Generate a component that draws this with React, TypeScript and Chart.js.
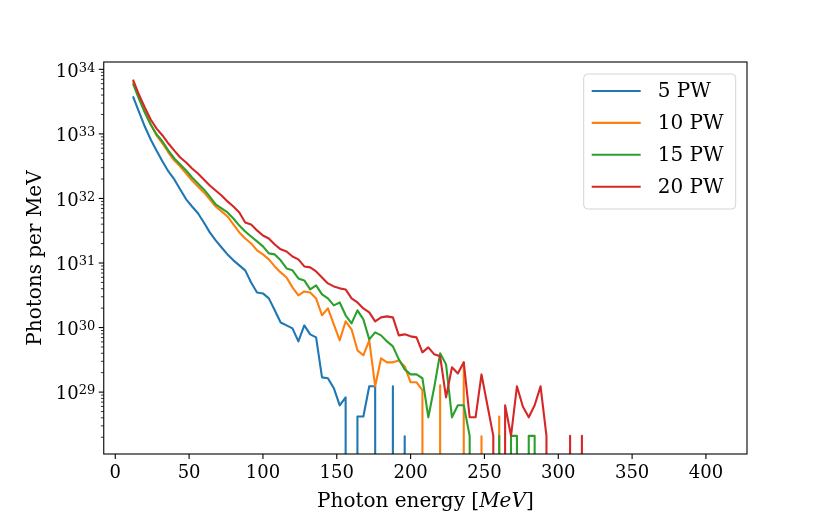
import { useEffect, useRef } from "react";
import { Chart, registerables } from "chart.js";

Chart.register(...registerables);

// Photon energy bin centres [MeV]
const energyMeV = [
  12, 16, 20, 24, 28, 32, 36, 40, 44, 48, 52, 56, 60, 64, 68, 72, 76, 80, 84, 88,
  92, 96, 100, 104, 108, 112, 116, 120, 124, 128, 132, 136, 140, 144, 148, 152, 156, 160, 164, 168,
  172, 176, 180, 184, 188, 192, 196, 200, 204, 208, 212, 216, 220, 224, 228, 232, 236, 240, 244, 248,
  252, 256, 260, 264, 268, 272, 276, 280, 284, 288, 292, 296, 300, 304, 308, 312, 316, 320, 324, 328,
  332, 336, 340, 344, 348, 352, 356, 360, 364, 368, 372, 376, 380, 384, 388, 392, 396, 400, 404, 408,
];

// Photons per MeV
const pw5 = [
  3.8e33, 2.22e33, 1.3e33, 8.2e32, 5.5e32, 3.74e32, 2.62e32, 1.97e32, 1.38e32, 9.7e31,
  7.5e31, 5.9e31, 4.25e31, 2.98e31, 2.24e31, 1.74e31, 1.36e31, 1.1e31, 9.2e30, 7.7e30,
  5.0e30, 3.5e30, 3.38e30, 2.83e30, 1.85e30, 1.2e30, 1.08e30, 9.7e29, 6.1e29, 1.08e30,
  7.85e29, 7.05e29, 1.69e29, 1.64e29, 1.15e29, 6.25e28, 8.3e28, 0, 4.2e28, 4.2e28,
  1.23e29, 1.23e29, 0, 0, 1.23e29, 0, 2.07e28, 0, 0, 0,
  0, 0, 0, 0, 0, 0, 0, 0, 0, 0,
  0, 0, 0, 0, 0, 0, 0, 0, 0, 0,
  0, 0, 0, 0, 0, 0, 0, 0, 0, 0,
  0, 0, 0, 0, 0, 0, 0, 0, 0, 0,
  0, 0, 0, 0, 0, 0, 0, 0, 0, 0,
];

const pw10 = [
  6.47e33, 3.66e33, 2.22e33, 1.4e33, 9.45e32, 7.1e32, 5.15e32, 3.87e32, 3.13e32, 2.44e32,
  1.9e32, 1.53e32, 1.24e32, 9.7e31, 7.5e31, 6.3e31, 5.26e31, 3.96e31, 2.98e31, 2.4e31,
  2.01e31, 1.57e31, 1.36e31, 1.14e31, 8.85e30, 7.15e30, 5.98e30, 4.19e30, 3.15e30, 3.63e30,
  3.5e30, 2.83e30, 1.55e30, 1.98e30, 1.12e30, 6.35e29, 1.25e30, 9.4e29, 4.44e29, 3.72e29,
  6.35e29, 1.23e29, 3.34e29, 2.89e29, 2.89e29, 3.1e29, 2.5e29, 1.42e29, 1.42e29, 1.07e29,
  0, 0, 1.27e29, 0, 0, 0, 2.92e29, 0, 0, 2.07e28,
  0, 0, 4.2e28, 0, 0, 0, 0, 0, 0, 0,
  0, 0, 0, 0, 0, 0, 0, 0, 0, 0,
  0, 0, 0, 0, 0, 0, 0, 0, 0, 0,
  0, 0, 0, 0, 0, 0, 0, 0, 0, 0,
];

const pw15 = [
  6.03e33, 3.53e33, 2.14e33, 1.4e33, 9.8e32, 7.62e32, 5.5e32, 4.16e32, 3.36e32, 2.71e32,
  2.11e32, 1.71e32, 1.38e32, 1.07e32, 8.07e31, 7.0e31, 6.07e31, 4.9e31, 3.8e31, 3.08e31,
  2.58e31, 2.16e31, 1.81e31, 1.41e31, 1.36e31, 1.1e31, 8.24e30, 7.7e30, 5.78e30, 5.38e30,
  3.9e30, 4.5e30, 3.27e30, 2.83e30, 2.21e30, 2.45e30, 1.55e30, 1.16e30, 1.85e30, 1.34e30,
  6.56e29, 8.43e29, 7.57e29, 6.1e29, 5.12e29, 3.22e29, 2.25e29, 1.88e29, 1.88e29, 1.64e29,
  4.07e28, 1.19e29, 3.99e29, 2.69e29, 4.07e28, 6.25e28, 6.25e28, 2.1e28, 0, 0,
  0, 0, 2.1e28, 0, 2.1e28, 2.1e28, 0, 2.1e28, 2.1e28, 0,
  0, 0, 0, 0, 0, 0, 0, 0, 0, 0,
  0, 0, 0, 0, 0, 0, 0, 0, 0, 0,
  0, 0, 0, 0, 0, 0, 0, 0, 0, 0,
];

const pw20 = [
  6.95e33, 4.07e33, 2.56e33, 1.67e33, 1.21e33, 9.45e32, 7.1e32, 5.5e32, 4.31e32, 3.61e32,
  2.91e32, 2.44e32, 1.97e32, 1.59e32, 1.33e32, 1.11e32, 9.0e31, 7.5e31, 6.07e31, 4.25e31,
  3.96e31, 3.2e31, 2.67e31, 2.4e31, 1.94e31, 1.63e31, 1.51e31, 1.26e31, 1.14e31, 8.85e30,
  8.55e30, 7.4e30, 5.98e30, 4.83e30, 4.34e30, 4.05e30, 3.9e30, 2.83e30, 2.45e30, 1.98e30,
  1.72e30, 1.25e30, 1.44e30, 1.49e30, 1.44e30, 7.57e29, 7.85e29, 7.31e29, 7.05e29, 4.13e29,
  4.93e29, 3.85e29, 3.58e29, 8.3e28, 2.42e29, 1.95e29, 2.89e29, 4.07e28, 4.07e28, 1.88e29,
  6.25e28, 2.1e28, 0, 6.25e28, 2.1e28, 1.23e29, 6.0e28, 4.07e28, 6.25e28, 1.23e29,
  2.1e28, 0, 0, 0, 2.1e28, 0, 2.1e28, 0, 0, 0,
  0, 0, 0, 0, 0, 0, 0, 0, 0, 0,
  0, 0, 0, 0, 0, 0, 0, 0, 0, 0,
];

const seriesLabels = ["5 PW", "10 PW", "15 PW", "20 PW"];
const seriesValues = [pw5, pw10, pw15, pw20];
const seriesColors = ["#1f77b4", "#ff7f0e", "#2ca02c", "#d62728"];

const xTickValues = [0, 50, 100, 150, 200, 250, 300, 350, 400];
const yDecadeExponents = [28, 29, 30, 31, 32, 33, 34];
const yLabelBase = "10";
const xTitleParts = ["Photon energy [", "MeV", "]"];
const yTitleText = "Photons per MeV";

const X_MIN = -7.8;
const X_MAX = 427.8;
const Y_MIN = 1.1e28;
const Y_MAX = 1.3e34;

const FONT = "'DejaVu Serif', serif";

function isDecade(v: number): number | null {
  const e = Math.round(Math.log10(v));
  const p = Math.pow(10, e);
  return Math.abs(v - p) / p < 1e-6 ? e : null;
}

// minor + major tick values of the log axis
const yTickValues: number[] = [];
for (const e of yDecadeExponents) {
  for (let m = 1; m <= 9; m++) {
    const v = m * Math.pow(10, e);
    if (v >= Y_MIN && v <= Y_MAX) yTickValues.push(v);
  }
}

const decorPlugin = {
  id: "decor",
  afterDatasetsDraw(chart: any) {
    const { ctx, chartArea: a, scales } = chart;
    const xs = scales.x;
    const ys = scales.y;
    ctx.save();
    ctx.strokeStyle = "#000";
    ctx.lineCap = "butt";

    // axes frame
    ctx.lineWidth = 1.1;
    ctx.strokeRect(a.left, a.top, a.right - a.left, a.bottom - a.top);

    // x tick marks
    for (const v of xTickValues) {
      const px = xs.getPixelForValue(v);
      ctx.beginPath();
      ctx.moveTo(px, a.bottom);
      ctx.lineTo(px, a.bottom + 5);
      ctx.stroke();
    }

    // y tick marks (major and minor) and decade labels 10^n
    for (const t of ys.ticks) {
      const py = ys.getPixelForValue(t.value);
      if (py < a.top - 0.5 || py > a.bottom + 0.5) continue;
      const exp = isDecade(t.value);
      const major = exp !== null;
      ctx.strokeStyle = "#000";
      ctx.lineWidth = major ? 1.1 : 0.8;
      ctx.beginPath();
      ctx.moveTo(a.left, py);
      ctx.lineTo(a.left - (major ? 5 : 2.8), py);
      ctx.stroke();
      if (major) {
        const right = a.left - 8.5;
        ctx.fillStyle = "#000";
        ctx.textAlign = "left";
        ctx.textBaseline = "alphabetic";
        ctx.font = `13px ${FONT}`;
        const supText = String(exp);
        const supW = ctx.measureText(supText).width;
        ctx.font = `18px ${FONT}`;
        const baseW = ctx.measureText(yLabelBase).width;
        ctx.fillText(yLabelBase, right - supW - baseW, py + 7.2);
        ctx.font = `13px ${FONT}`;
        ctx.fillText(supText, right - supW, py + 2.2);
      }
    }

    // legend
    const bw = 152;
    const bh = 135;
    const bx = a.right - 11.3 - bw;
    const by = a.top + 12;
    ctx.beginPath();
    ctx.roundRect(bx, by, bw, bh, 4);
    ctx.fillStyle = "rgba(255,255,255,0.8)";
    ctx.fill();
    ctx.lineWidth = 1;
    ctx.strokeStyle = "#d4d4d4";
    ctx.stroke();
    ctx.font = `20px ${FONT}`;
    ctx.textBaseline = "middle";
    ctx.textAlign = "left";
    chart.data.datasets.forEach((ds: any, i: number) => {
      const ry = by + 17 + i * 31.9;
      ctx.strokeStyle = ds.borderColor;
      ctx.lineWidth = 2.1;
      ctx.beginPath();
      ctx.moveTo(bx + 8, ry);
      ctx.lineTo(bx + 57, ry);
      ctx.stroke();
      ctx.fillStyle = "#000";
      ctx.fillText(ds.label, bx + 74, ry + 1);
    });

    // x axis title with italic unit
    const fonts = [`20px ${FONT}`, `italic 20px ${FONT}`, `20px ${FONT}`];
    let total = 0;
    const widths = xTitleParts.map((p, i) => {
      ctx.font = fonts[i];
      const w = ctx.measureText(p).width;
      total += w;
      return w;
    });
    let tx = (a.left + a.right) / 2 - total / 2;
    ctx.textBaseline = "alphabetic";
    ctx.fillStyle = "#000";
    xTitleParts.forEach((p, i) => {
      ctx.font = fonts[i];
      ctx.fillText(p, tx, a.bottom + 52.5);
      tx += widths[i];
    });

    ctx.restore();
  },
};

export default function App() {
  const canvasRef = useRef<HTMLCanvasElement | null>(null);

  useEffect(() => {
    document.body.style.margin = "0";
    const canvas = canvasRef.current;
    if (!canvas) return;

    const datasets = seriesValues.map((vals, i) => ({
      label: seriesLabels[i],
      data: energyMeV.map((e, j) => ({ x: e, y: vals[j] > 0 ? vals[j] : 1e-300 })),
      borderColor: seriesColors[i],
      backgroundColor: seriesColors[i],
      borderWidth: 2.1,
      pointRadius: 0,
      tension: 0,
      fill: false,
      borderJoinStyle: "round" as const,
      order: seriesValues.length - 1 - i,
    }));

    const chart = new Chart(canvas, {
      type: "line",
      data: { datasets },
      options: {
        animation: false,
        responsive: false,
        events: [],
        layout: { padding: { left: 0, right: 83, top: 62, bottom: 0 } },
        plugins: {
          legend: { display: false },
          tooltip: { enabled: false },
        },
        scales: {
          x: {
            type: "linear",
            min: X_MIN,
            max: X_MAX,
            afterBuildTicks: (scale: any) => {
              scale.ticks = xTickValues.map((v) => ({ value: v }));
            },
            afterFit: (scale: any) => {
              scale.height = 65;
            },
            grid: { display: false, drawTicks: true, tickLength: 5 },
            border: { display: false },
            ticks: {
              autoSkip: false,
              maxRotation: 0,
              padding: 4,
              color: "#000",
              font: { family: FONT, size: 18 },
              callback: (v: any) => String(v),
            },
            title: { display: false },
          },
          y: {
            type: "logarithmic",
            min: Y_MIN,
            max: Y_MAX,
            afterBuildTicks: (scale: any) => {
              scale.ticks = yTickValues.map((v) => ({ value: v }));
            },
            afterFit: (scale: any) => {
              scale.width = 103.75;
            },
            grid: { display: false, drawTicks: true, tickLength: 5 },
            border: { display: false },
            ticks: {
              autoSkip: false,
              padding: 4,
              color: "#000",
              font: { family: FONT, size: 18 },
              callback: () => "",
            },
            title: {
              display: true,
              text: yTitleText,
              color: "#000",
              font: { family: FONT, size: 20 },
              padding: { top: 24, bottom: 0 },
            },
          },
        },
      },
      plugins: [decorPlugin],
    });

    return () => chart.destroy();
  }, []);

  return (
    <div style={{ position: "absolute", left: 0, top: 0, width: 830, height: 519, background: "#fff" }}>
      <canvas ref={canvasRef} width={830} height={519} style={{ width: 830, height: 519 }} />
    </div>
  );
}
